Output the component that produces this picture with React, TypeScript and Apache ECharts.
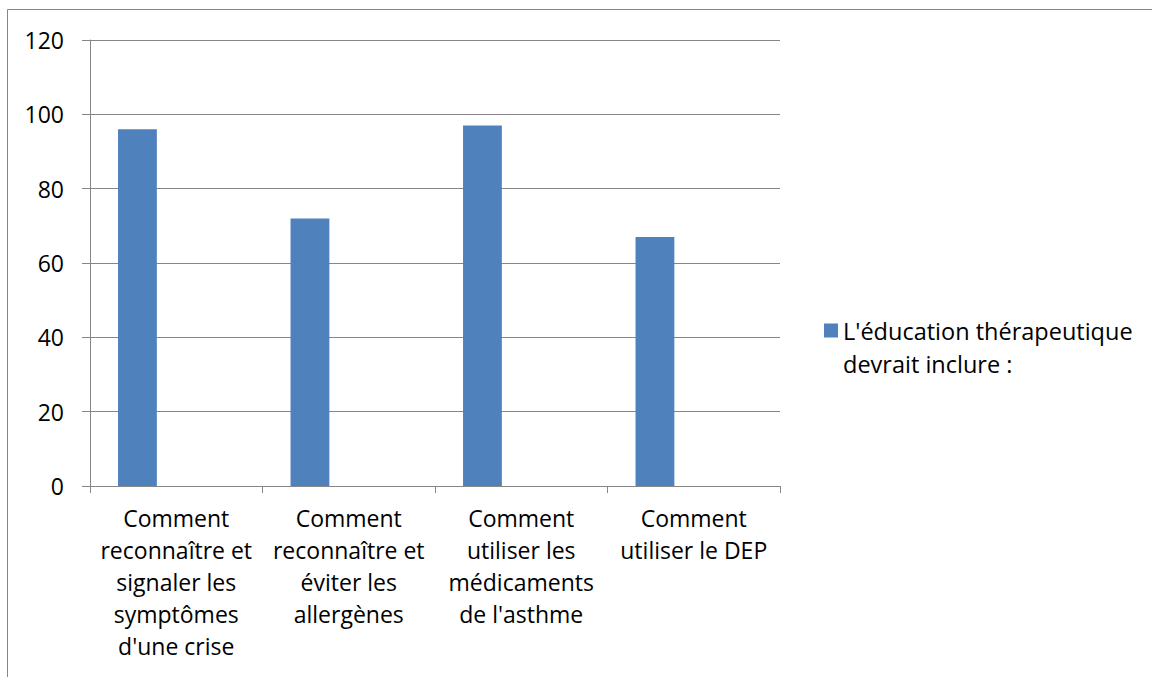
import React, { useEffect, useRef } from "react";
import * as echarts from "echarts";

const categories = [
  "Comment\nreconnaître et\nsignaler les\nsymptômes\nd'une crise",
  "Comment\nreconnaître et\néviter les\nallergènes",
  "Comment\nutiliser les\nmédicaments\nde l'asthme",
  "Comment\nutiliser le DEP",
];
const seriesName = "L'éducation thérapeutique\ndevrait inclure :";
const values = [96, 72, 97, 67];
const yTicks = { min: 0, max: 120, interval: 20 };

const FONT = "'Open Sans', sans-serif";

export default function App() {
  const ref = useRef<HTMLDivElement>(null);
  useEffect(() => {
    if (!ref.current) return;
    const chart = echarts.init(ref.current, null, { renderer: "svg" });
    chart.setOption({
      animation: false,
      backgroundColor: "#fff",
      textStyle: { fontFamily: FONT },
      graphic: [
        {
          type: "rect",
          shape: { x: 7.5, y: 9.5, width: 2000, height: 2000 },
          style: { fill: "none", stroke: "#868686", lineWidth: 1 },
          silent: true,
        },
      ],
      grid: { left: 90, right: 372, top: 40, bottom: 191, containLabel: false },
      legend: {
        data: [seriesName],
        left: 824,
        top: 281,
        padding: 0,
        orient: "vertical",
        icon: "rect",
        itemWidth: 14,
        itemHeight: 14,
        formatter: (name: string) => " \n" + name,
        textStyle: {
          fontFamily: FONT,
          fontSize: 23.5,
          color: "#000",
          lineHeight: 33,
        },
      },
      xAxis: {
        type: "category",
        data: categories,
        boundaryGap: true,
        axisLine: { lineStyle: { color: "#868686", width: 1 } },
        axisTick: { show: true, length: 7, alignWithLabel: false, lineStyle: { color: "#868686" } },
        axisLabel: {
          interval: 0,
          margin: 16,
          fontFamily: FONT,
          fontSize: 23,
          color: "#000",
          lineHeight: 32,
          align: "center",
        },
      },
      yAxis: {
        type: "value",
        min: yTicks.min,
        max: yTicks.max,
        interval: yTicks.interval,
        axisLine: { show: true, lineStyle: { color: "#868686", width: 1 } },
        axisTick: { show: true, length: 8, inside: false, lineStyle: { color: "#868686" } },
        splitLine: { show: true, lineStyle: { color: "#868686", width: 1 } },
        axisLabel: { margin: 26, fontFamily: FONT, fontSize: 23, color: "#000" },
      },
      series: [
        {
          name: seriesName,
          type: "bar",
          data: values,
          itemStyle: { color: "#4F81BD" },
          barGap: "0%",
          barCategoryGap: "32.5%",
        },
        { name: "_a", type: "bar", data: values.map(() => "-"), barGap: "0%", barCategoryGap: "32.5%" },
        { name: "_b", type: "bar", data: values.map(() => "-"), barGap: "0%", barCategoryGap: "32.5%" },
      ],
    });
    return () => chart.dispose();
  }, []);
  return (
    <div
      ref={ref}
      style={{ position: "absolute", left: 0, top: 0, width: 1152, height: 677 }}
    />
  );
}
